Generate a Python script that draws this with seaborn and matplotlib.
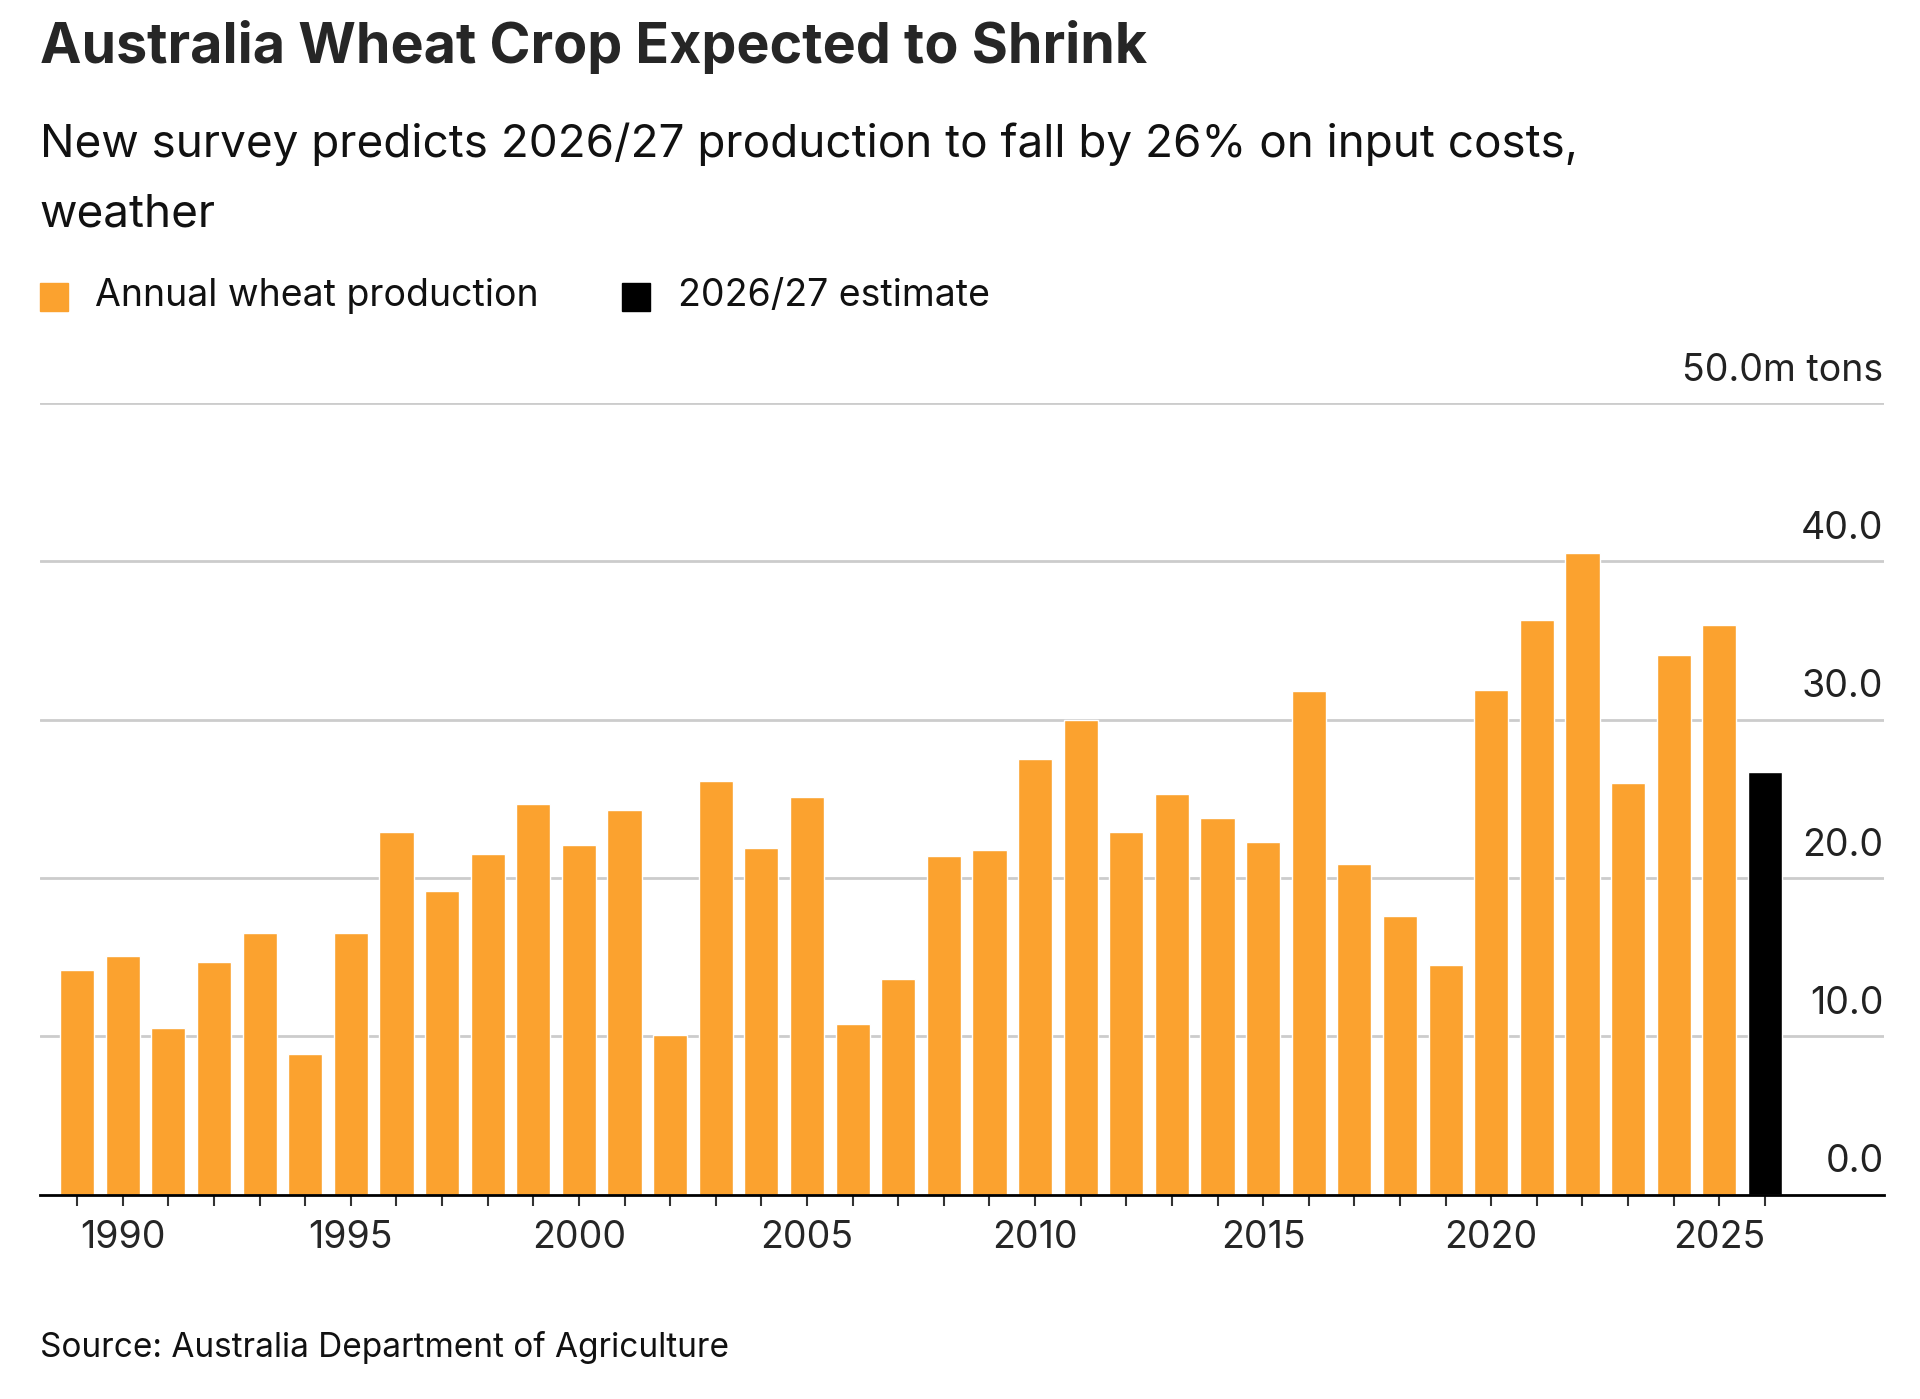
import matplotlib
matplotlib.use("Agg")
import matplotlib.pyplot as plt
import seaborn as sns
import pandas as pd
import numpy as np

years = list(range(1989, 2027))
values = [14.2, 15.1, 10.5, 14.7, 16.5, 8.9, 16.5, 22.9, 19.2, 21.5, 24.7, 22.1, 24.3, 10.1,
          26.1, 21.9, 25.1, 10.8, 13.6, 21.4, 21.8, 27.5, 30.0, 22.9, 25.3, 23.8, 22.3, 31.8,
          20.9, 17.6, 14.5, 31.9, 36.3, 40.5, 26.0, 34.1, 36.0, 26.7]
series = ["Annual wheat production"] * 37 + ["2026/27 estimate"]
colors = {"Annual wheat production": "#FBA22F", "2026/27 estimate": "#000000"}
ytick_vals = [0, 10, 20, 30, 40, 50]
ytick_labels = ["0.0", "10.0", "20.0", "30.0", "40.0", "50.0m tons"]

sns.set_style("white")
plt.rcParams['font.family'] = ['Inter', 'DejaVu Sans']

df = pd.DataFrame({"year": years, "value": values, "series": series})
fig = plt.figure(figsize=(19.2, 13.99), dpi=100)
ax = fig.add_axes([0.0207, 0.146, 0.9603, 0.566])
sns.barplot(data=df, x="year", y="value", hue="series", palette=colors, native_scale=True,
            dodge=False, width=0.75, legend=False, ax=ax, saturation=1)
ax.set_xlim(1988.18, 2028.6)
ax.set_ylim(0, 50)
ax.set_xlabel(""); ax.set_ylabel("")
for s in ["top", "right", "left"]:
    ax.spines[s].set_visible(False)
ax.spines["bottom"].set_color("black"); ax.spines["bottom"].set_linewidth(2)
for v in ytick_vals[1:]:
    ax.axhline(v, color="#cccccc", lw=2, zorder=0)
ax.set_yticks([])
for v, l in zip(ytick_vals, ytick_labels):
    ax.text(1.0, v + 0.9, l, transform=ax.get_yaxis_transform(), ha="right", va="bottom",
            fontsize=27, color="#222222")
ax.set_xticks(range(1990, 2026, 5))
ax.set_xticklabels([str(y) for y in range(1990, 2026, 5)], fontsize=27)
ax.set_xticks(range(1989, 2027), minor=True)
ax.tick_params(axis="x", which="both", direction="out", length=8, width=1.5, color="#333333", bottom=True)
ax.tick_params(axis="x", which="major", pad=10)

fig.text(0.0207, 0.955, "Australia Wheat Crop Expected to Shrink", fontsize=40, fontweight="bold", va="baseline")
fig.text(0.0207, 0.888, "New survey predicts 2026/27 production to fall by 26% on input costs,", fontsize=33, va="baseline", color="#111111")
fig.text(0.0207, 0.838, "weather", fontsize=33, va="baseline", color="#111111")
# legend
lx = 0.0207
for name, tx in [("Annual wheat production", lx), ("2026/27 estimate", 0.324)]:
    fig.patches.append(plt.Rectangle((tx, 0.778), 0.0145, 0.02, transform=fig.transFigure,
                                     color=colors[name], figure=fig))
    fig.text(tx + 0.029, 0.781, name, fontsize=27, va="baseline", color="#111111")
fig.text(0.0207, 0.03, "Source: Australia Department of Agriculture", fontsize=24, va="baseline", color="#111111")
fig.savefig("out.png", dpi=100, facecolor="white")
